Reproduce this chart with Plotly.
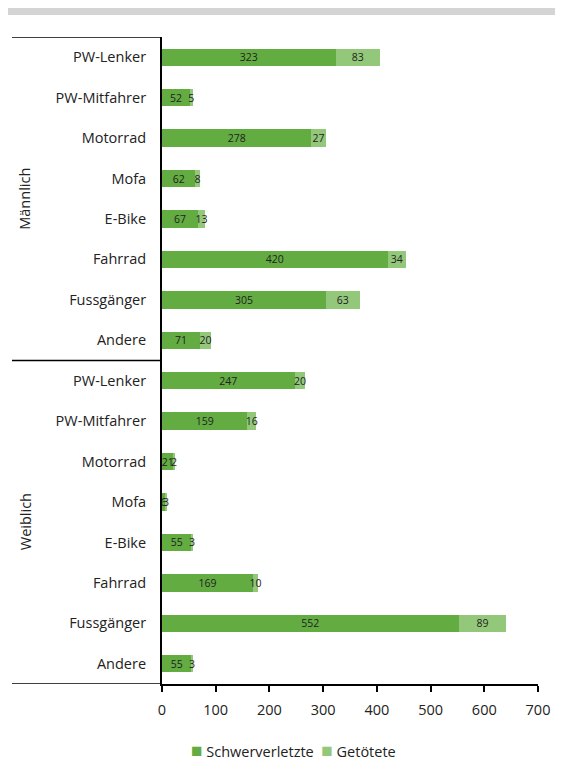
import plotly.graph_objects as go

groups = ["Männlich", "Weiblich"]
categories = ["PW-Lenker", "PW-Mitfahrer", "Motorrad", "Mofa", "E-Bike", "Fahrrad", "Fussgänger", "Andere"]
schwer_m = [323, 52, 278, 62, 67, 420, 305, 71]
getoetet_m = [83, 5, 27, 8, 13, 34, 63, 20]
schwer_w = [247, 159, 21, 6, 55, 169, 552, 55]
getoetet_w = [20, 16, 2, 3, 3, 10, 89, 3]
x_ticks = [0, 100, 200, 300, 400, 500, 600, 700]
series_names = ["Schwerverletzte", "Getötete"]

labels = categories + categories
schwer = schwer_m + schwer_w
getoetet = getoetet_m + getoetet_w
ypos = list(range(len(labels)))

dark = "#62ac42"
light = "#93c87b"
font = "Open Sans"
txt = "#222222"

fig = go.Figure()
for vals, name, col in [(schwer, series_names[0], dark), (getoetet, series_names[1], light)]:
    fig.add_trace(go.Bar(
        y=ypos, x=vals, orientation="h", name=name, showlegend=False,
        marker=dict(color=col, line=dict(width=0)),
        text=[str(v) for v in vals], textposition="inside", insidetextanchor="middle",
        textangle=0, textfont=dict(size=10.5, color=txt, family=font),
    ))

# page has 8px body margin; figure coords = page coords - 8
W, H = 555, 755
L, R, T, B = 154, 25, 29, 79
pw = W - L - R
ph = H - T - B

shapes = []
shapes.append(dict(type="rect", xref="paper", yref="paper",
                   x0=-L / pw, x1=(W - L) / pw, y0=(H - B - 7) / ph, y1=(H - B + 2) / ph,
                   fillcolor="#d4d4d4", line=dict(width=0), layer="above"))
for yv in [-0.5, 7.5, 15.5]:
    shapes.append(dict(type="line", xref="paper", yref="y",
                       x0=-150 / pw, x1=0, y0=yv, y1=yv,
                       line=dict(color="black", width=1.5)))

annotations = []
for i, g in enumerate(groups):
    annotations.append(dict(text=g, xref="paper", yref="y", x=-137 / pw, y=3.5 + 8 * i,
                            xanchor="center", yanchor="middle",
                            textangle=-90, showarrow=False,
                            font=dict(size=14.5, color=txt, family=font)))
# legend row
sq = '<span style="color:{c};font-size:19px">■</span>'
legend_text = (sq.format(c=dark) + f' {series_names[0]}&nbsp;&nbsp;'
               + sq.format(c=light) + f' {series_names[1]}')
annotations.append(dict(text=legend_text, xref="paper", yref="paper",
                        x=(293 - 8 - L) / pw, y=-(750 - 8 - (H - B)) / ph,
                        xanchor="center", yanchor="middle", showarrow=False,
                        font=dict(size=14.5, color=txt, family=font)))

fig.update_layout(
    width=W, height=H,
    margin=dict(l=L, r=R, t=T, b=B),
    barmode="stack", bargap=0.57,
    plot_bgcolor="white", paper_bgcolor="white",
    font=dict(family=font, size=14.5, color=txt),
    uniformtext=dict(minsize=10, mode="show"),
    shapes=shapes, annotations=annotations,
    showlegend=False,
    xaxis=dict(range=[0, 700], tickvals=x_ticks, showgrid=False, zeroline=False,
               showline=True, linecolor="black", linewidth=2,
               ticks="outside", ticklen=6, tickcolor="black", tickwidth=1.5,
               ticklabelstandoff=6,
               tickfont=dict(size=14.5, family=font)),
    yaxis=dict(range=[15.5, -0.5], tickvals=ypos, ticktext=labels, showgrid=False,
               zeroline=False, showline=True, linecolor="black", linewidth=2,
               ticks="", ticklabelstandoff=11, tickfont=dict(size=14.5, family=font)),
)

fig.write_html("out.html")
